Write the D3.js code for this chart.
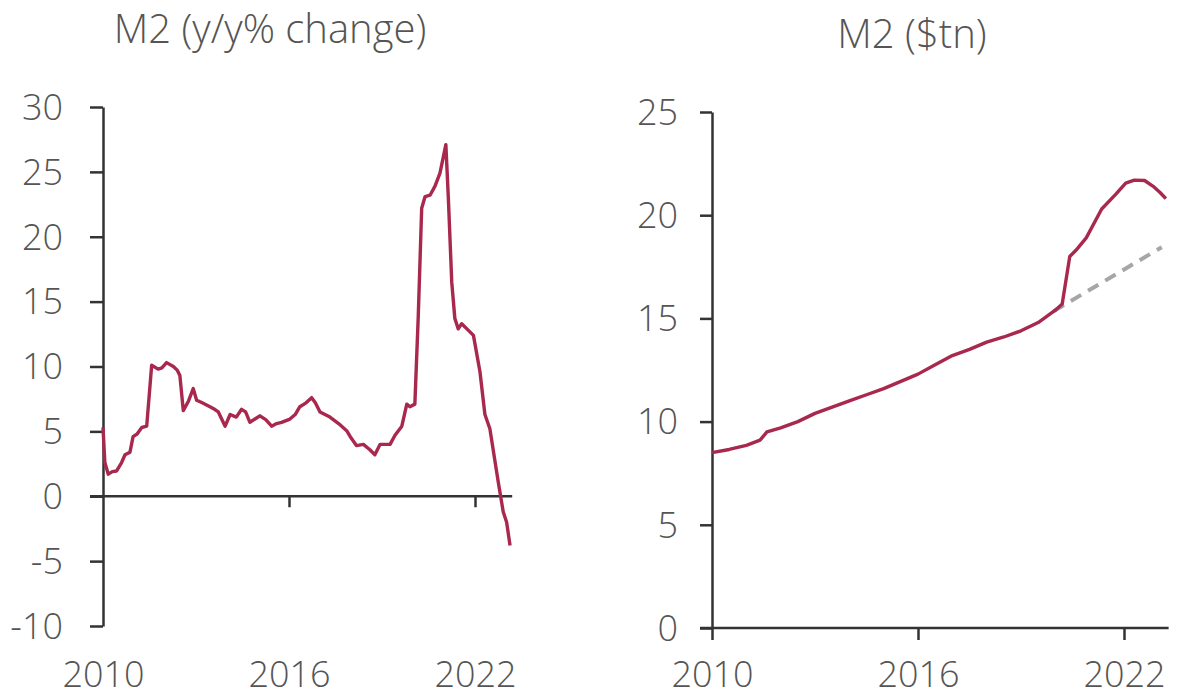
<!DOCTYPE html>
<html>
<head>
<meta charset="utf-8">
<script src="https://cdn.jsdelivr.net/npm/d3@7"></script>
<style>
  body { margin: 0; background: #fff; }
  svg text { font-family: "Open Sans", "Noto Sans", sans-serif; font-weight: 300; fill: #555; }
  .axis path, .axis line { stroke: #333; stroke-width: 2.5; }
</style>
</head>
<body>
<svg id="chart" width="1179" height="697"></svg>
<script>
// left panel: M2 y/y % change
var yoyYears = [2010.0, 2010.06, 2010.17, 2010.3, 2010.44, 2010.6, 2010.71, 2010.87, 2010.97, 2011.1, 2011.25, 2011.41,
  2011.57, 2011.78, 2011.9, 2012.05, 2012.27, 2012.4, 2012.48, 2012.59, 2012.75, 2012.91, 2013.02, 2013.2, 2013.45,
  2013.6, 2013.72, 2013.94, 2014.1, 2014.3, 2014.47, 2014.6, 2014.74, 2015.06, 2015.25, 2015.44, 2015.6, 2015.76,
  2016.03, 2016.2, 2016.35, 2016.55, 2016.73, 2016.85, 2017.0, 2017.32, 2017.6, 2017.86, 2018.0, 2018.18, 2018.4,
  2018.6, 2018.77, 2018.94, 2019.1, 2019.26, 2019.42, 2019.64, 2019.8, 2019.9, 2020.06, 2020.17, 2020.28, 2020.39,
  2020.55, 2020.71, 2020.87, 2021.06, 2021.14, 2021.25, 2021.35, 2021.46, 2021.57, 2021.78, 2021.95, 2022.16,
  2022.32, 2022.48, 2022.75, 2022.91, 2023.02, 2023.13];
var yoyValues = [5.3, 2.6, 1.7, 1.9, 1.95, 2.6, 3.2, 3.4, 4.6, 4.8, 5.3, 5.4,
  10.1, 9.8, 9.9, 10.3, 10.0, 9.7, 9.3, 6.6, 7.3, 8.3, 7.4, 7.2, 6.9,
  6.7, 6.5, 5.4, 6.3, 6.1, 6.7, 6.5, 5.7, 6.2, 5.9, 5.4, 5.6, 5.7,
  5.95, 6.3, 6.9, 7.2, 7.6, 7.2, 6.5, 6.1, 5.6, 5.05, 4.5, 3.9, 4.0,
  3.6, 3.2, 4.0, 4.0, 4.0, 4.7, 5.4, 7.1, 6.9, 7.1, 13.9, 22.2, 23.1,
  23.2, 23.9, 24.9, 27.1, 23.0, 16.5, 13.7, 12.9, 13.3, 12.8, 12.4, 9.6,
  6.3, 5.2, 1.1, -1.2, -2.0, -3.8];

// right panel: M2 level, $tn
var levelYears = [2010.0, 2010.5, 2011.0, 2011.4, 2011.6, 2012.0, 2012.5, 2013.0, 2013.5, 2014.0, 2014.5, 2015.0,
  2015.5, 2016.0, 2016.5, 2017.0, 2017.5, 2018.0, 2018.5, 2019.0, 2019.5, 2020.0, 2020.2, 2020.42, 2020.6,
  2020.9, 2021.35, 2021.75, 2022.05, 2022.3, 2022.6, 2022.85, 2023.05, 2023.22];
var levelValues = [8.5, 8.65, 8.85, 9.1, 9.5, 9.7, 10.0, 10.4, 10.7, 11.0, 11.3, 11.6,
  11.95, 12.3, 12.75, 13.2, 13.5, 13.85, 14.1, 14.4, 14.8, 15.4, 15.7, 18.0, 18.3,
  18.9, 20.3, 21.0, 21.55, 21.7, 21.68, 21.4, 21.1, 20.8];
// pre-covid trend (dashed)
var trendYears = [2019.95, 2023.1];
var trendValues = [15.35, 18.45];

var xTicks = [2010, 2016, 2022];
var yoyTicks = [30, 25, 20, 15, 10, 5, 0, -5, -10];
var levelTicks = [25, 20, 15, 10, 5, 0];

var svg = d3.select("#chart");
var lineColor = "#a8284e";
var hyphen = function (d) { return String(d); };   // plain "-" like the source, not the unicode minus

function zip(xs, ys) { return xs.map(function (d, i) { return { x: d, y: ys[i] }; }); }

// ---- left panel
var x1 = d3.scaleLinear().domain([2010, 2022]).range([103, 475]);
var y1 = d3.scaleLinear().domain([-10, 30]).range([626, 107]);

svg.append("text").attr("x", 270).attr("y", 43).attr("text-anchor", "middle")
    .style("font-size", "40px").text("M2 (y/y% change)");

svg.append("g").attr("class", "axis")
    .attr("transform", "translate(103,0)")
    .call(d3.axisLeft(y1).tickValues(yoyTicks).tickSize(13).tickPadding(27).tickSizeOuter(0).tickFormat(hyphen))
    .call(function (g) { g.selectAll("text").style("font-size", "36px").attr("fill", null).attr("dy", "0.34em"); });

// zero line with ticks
svg.append("g").attr("class", "axis")
    .attr("transform", "translate(0," + y1(0) + ")")
    .call(d3.axisBottom(x1).tickValues(xTicks).tickSize(11).tickSizeOuter(0).tickFormat(""))
    .call(function (g) {
      g.select(".domain").attr("d", "M" + 90 + ",0H" + x1(2023.2));
      g.selectAll(".tick").filter(function (d) { return d === 2010; }).remove();
    });

svg.append("g")
    .attr("transform", "translate(0,661)")
    .call(d3.axisBottom(x1).tickValues(xTicks).tickSize(0).tickPadding(0).tickFormat(d3.format("d")))
    .call(function (g) {
      g.select(".domain").remove();
      g.selectAll("text").style("font-size", "36px").attr("fill", null);
    });

svg.append("path")
    .datum(zip(yoyYears, yoyValues))
    .attr("fill", "none").attr("stroke", lineColor).attr("stroke-width", 3.4)
    .attr("stroke-linejoin", "round")
    .attr("d", d3.line().x(function (d) { return x1(d.x); }).y(function (d) { return y1(d.y); }));

// ---- right panel
var x2 = d3.scaleLinear().domain([2010, 2022]).range([712, 1124]);
var y2 = d3.scaleLinear().domain([0, 25]).range([628, 112]);

svg.append("text").attr("x", 912).attr("y", 48).attr("text-anchor", "middle")
    .style("font-size", "40px").text("M2 ($tn)");

svg.append("g").attr("class", "axis")
    .attr("transform", "translate(712,0)")
    .call(d3.axisLeft(y2).tickValues(levelTicks).tickSize(12).tickPadding(22).tickSizeOuter(0))
    .call(function (g) { g.selectAll("text").style("font-size", "36px").attr("fill", null).attr("dy", "0.34em"); });

svg.append("g").attr("class", "axis")
    .attr("transform", "translate(0," + y2(0) + ")")
    .call(d3.axisBottom(x2).tickValues(xTicks).tickSize(12).tickSizeOuter(0).tickFormat(""))
    .call(function (g) { g.select(".domain").attr("d", "M700,0H" + x2(2023.3)); });

svg.append("g")
    .attr("transform", "translate(0,661)")
    .call(d3.axisBottom(x2).tickValues(xTicks).tickSize(0).tickPadding(0).tickFormat(d3.format("d")))
    .call(function (g) {
      g.select(".domain").remove();
      g.selectAll("text").style("font-size", "36px").attr("fill", null);
    });

var line2 = d3.line().x(function (d) { return x2(d.x); }).y(function (d) { return y2(d.y); });

svg.append("path")
    .datum(zip(trendYears, trendValues))
    .attr("fill", "none").attr("stroke", "#a6a6a6").attr("stroke-width", 4)
    .attr("stroke-dasharray", "12,8")
    .attr("d", line2);

svg.append("path")
    .datum(zip(levelYears, levelValues))
    .attr("fill", "none").attr("stroke", lineColor).attr("stroke-width", 3.4)
    .attr("stroke-linejoin", "round")
    .attr("d", line2);
</script>
</body>
</html>
